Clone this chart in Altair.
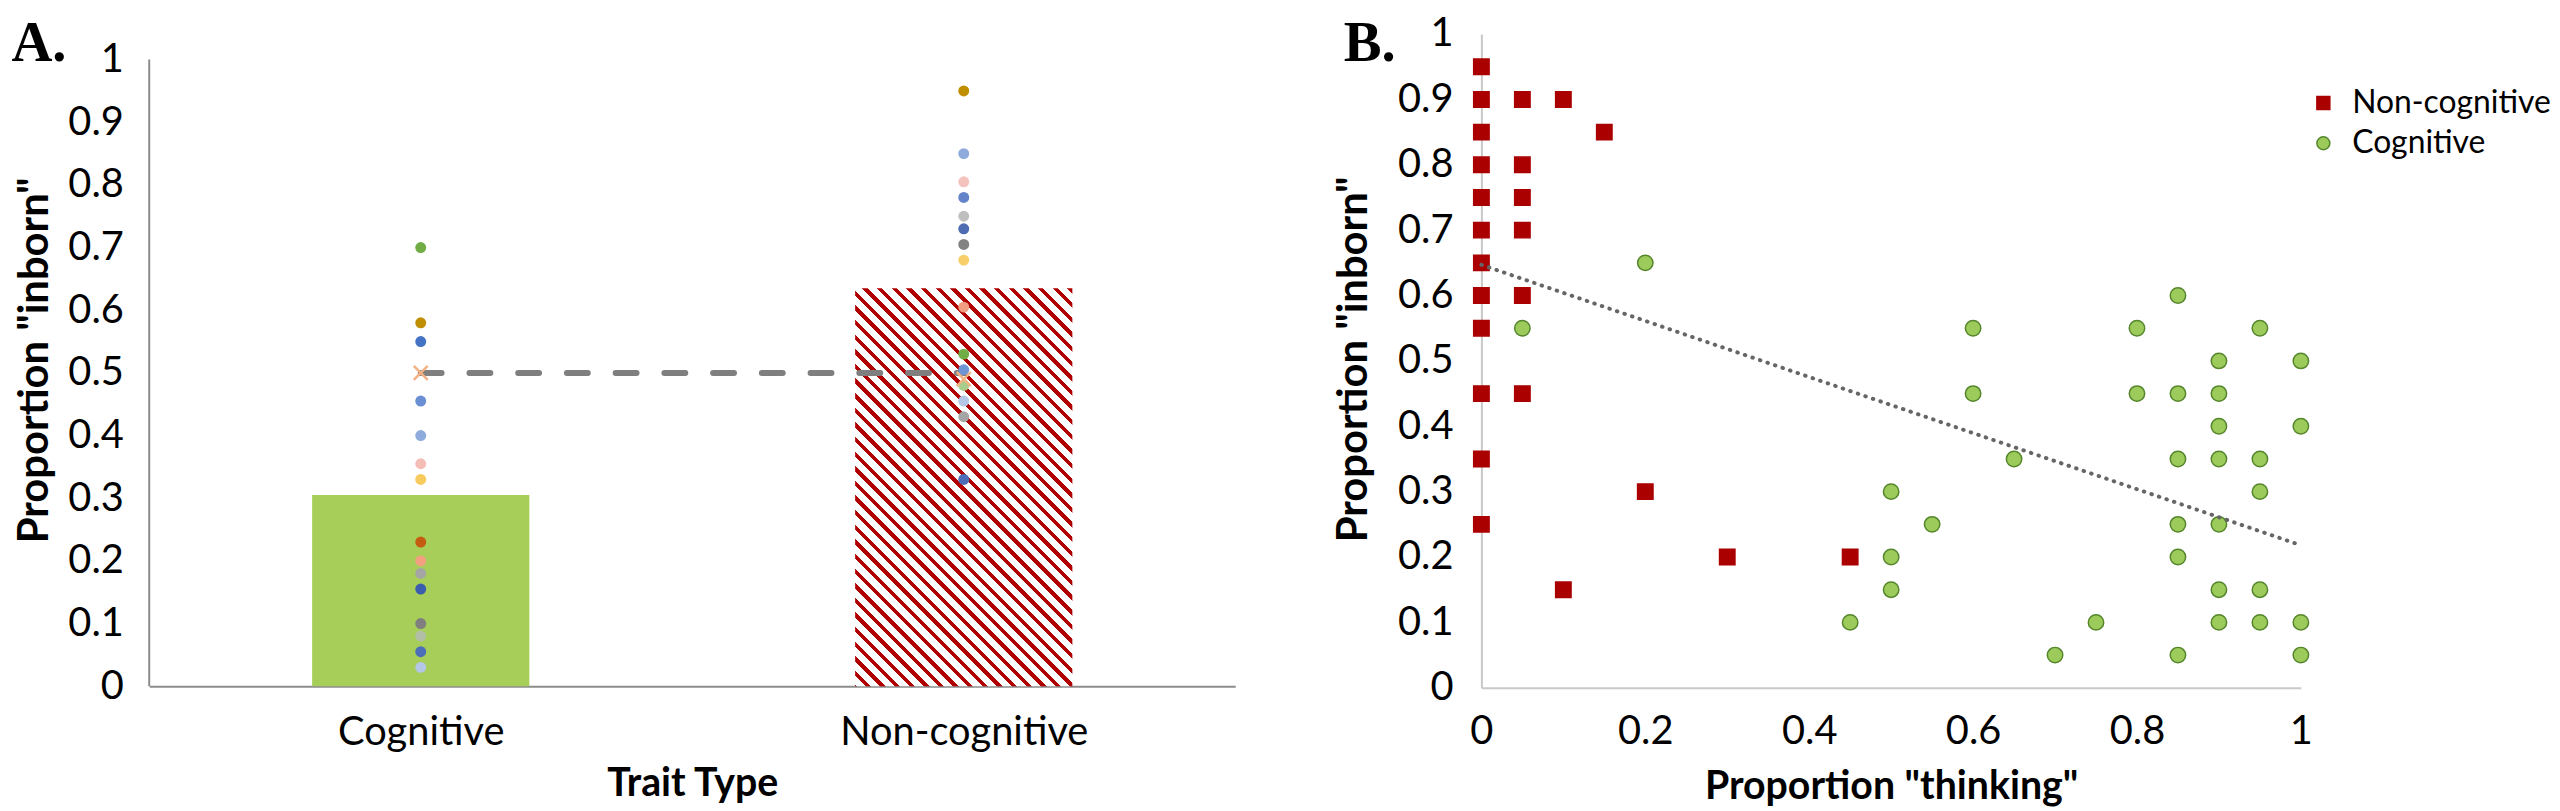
import altair as alt
import pandas as pd

# ---------------- data ----------------
categories = ["Cognitive", "Non-cognitive"]
bar_means = [0.305, 0.635]
chance_line = [0.5, 0.5]

cog_dots = [0.70, 0.58, 0.55, 0.50, 0.455, 0.40, 0.355, 0.33, 0.23, 0.20,
            0.18, 0.155, 0.10, 0.08, 0.055, 0.03]
noncog_dots = [0.95, 0.85, 0.805, 0.78, 0.75, 0.73, 0.705, 0.68, 0.605, 0.53,
               0.505, 0.49, 0.48, 0.455, 0.43, 0.33]

nc_thinking = [0, 0, 0.05, 0.10, 0, 0.15, 0, 0.05, 0, 0.05, 0, 0.05, 0, 0, 0.05,
               0, 0, 0.05, 0, 0, 0.20, 0.10, 0.30, 0.45]
nc_inborn = [0.95, 0.90, 0.90, 0.90, 0.85, 0.85, 0.80, 0.80, 0.75, 0.75, 0.70, 0.70,
             0.65, 0.60, 0.60, 0.55, 0.45, 0.45, 0.35, 0.25, 0.30, 0.15, 0.20, 0.20]
c_thinking = [0.05, 0.20, 0.45, 0.50, 0.50, 0.50, 0.55, 0.60, 0.60, 0.65, 0.70, 0.75,
              0.80, 0.80, 0.85, 0.85, 0.85, 0.85, 0.85, 0.85, 0.90, 0.90, 0.90, 0.90,
              0.90, 0.90, 0.90, 0.95, 0.95, 0.95, 0.95, 0.95, 1.00, 1.00, 1.00, 1.00]
c_inborn = [0.55, 0.65, 0.10, 0.30, 0.20, 0.15, 0.25, 0.55, 0.45, 0.35, 0.05, 0.10,
            0.55, 0.45, 0.60, 0.45, 0.35, 0.25, 0.20, 0.05, 0.50, 0.45, 0.40, 0.35,
            0.25, 0.15, 0.10, 0.55, 0.35, 0.30, 0.15, 0.10, 0.50, 0.40, 0.10, 0.05]
trend_thinking = [0.0, 1.0]
trend_inborn = [0.647, 0.218]

legend_order = ["Non-cognitive", "Cognitive"]
panel_labels = ["A.", "B."]
y_ticks = [0, 0.1, 0.2, 0.3, 0.4, 0.5, 0.6, 0.7, 0.8, 0.9, 1]
x_ticks_b = [0, 0.2, 0.4, 0.6, 0.8, 1]

# ---------------- styles ----------------
cog_palette = ["#70AD47", "#BF8F00", "#4472C4", "#F4B183", "#6A8FD3", "#8FAADC",
               "#F4BDB5", "#F7CB5E", "#C55A11", "#F2A080", "#A5A5A5", "#3A5DAE",
               "#7F7F7F", "#B2BFA6", "#4C6DB8", "#B4C7E7"]
noncog_palette = ["#BF8F00", "#8FAADC", "#F4C3BD", "#6384C8", "#BFBFBF", "#4E6CB2",
                  "#828282", "#F7CE6A", "#F19E80", "#70AD47", "#6F94D4", "#F4B183",
                  "#A9CD8C", "#B4C7E7", "#A5A5A5", "#4C6DB8"]
x_marker_cog = [3]
x_marker_noncog = [11]

FONT = "Lato"
GREEN_BAR = "#A6CE59"
HATCH_RED = "#B00000"
SQ_RED = "#AA0000"
CIRC_FILL = "#9CCB5B"
CIRC_STROKE = "#55862C"

PAD_L, PAD_T = 3, 4
TOP = 8 + PAD_T + 19.0          # page y of the plot tops
A_LEFT = 149.6                  # page x of panel A's plot
B_LEFT = 1482.6                 # page x of panel B's plot
W_A = 1092
H_A = 686.7 - TOP
A_XDOM = [-0.5, 1.5]
A_PX_PER_UNIT_Y = 630.0
A_YMAX = H_A / A_PX_PER_UNIT_Y
HALF = 0.2
SPACING = 247.5
W_B = 824
H_B = 688.3 - TOP

# ---------------- panel A tables ----------------
bars_df = pd.DataFrame({"category": categories, "pos": list(range(len(categories))),
                        "mean": bar_means})
rows = []
for i, v in enumerate(cog_dots):
    rows.append({"pos": 0, "value": v, "key": f"c{i}",
                 "marker": "x" if i in x_marker_cog else "dot"})
for i, v in enumerate(noncog_dots):
    rows.append({"pos": 1, "value": v, "key": f"n{i}",
                 "marker": "x" if i in x_marker_noncog else "dot"})
dots_df = pd.DataFrame(rows)
key_domain = [f"c{i}" for i in range(len(cog_dots))] + [f"n{i}" for i in range(len(noncog_dots))]
key_range = cog_palette + noncog_palette
line_df = pd.DataFrame({"pos": list(range(len(categories))), "value": chance_line})
axis_line_df = pd.DataFrame({"lo": [0.0], "hi": [1.0]})

xs_A = alt.Scale(domain=A_XDOM, nice=False, zero=False)
ys_A = alt.Scale(domain=[0, A_YMAX], nice=False, zero=True)
label_expr = "[" + ",".join("'" + c + "'" for c in categories) + "][datum.value]"
x_axis_A = alt.Axis(values=[0, 1], labelExpr=label_expr, title="Trait Type",
                    domainColor="#8C8C8C", domainWidth=2, ticks=False, tickSize=0,
                    grid=False, labelPadding=27, labelFlush=False, labelLimit=500,
                    titleFontSize=39.5, titleY=110.3, titleBaseline="alphabetic")
y_axis_A = alt.Axis(values=y_ticks, format="~g", domain=False, ticks=False, tickSize=0,
                    grid=False, labelPadding=26, labelFlush=False, labelLimit=500,
                    title='Proportion "inborn"', titleFontSize=42,
                    titleX=-115.6, titleY=358.5 - TOP, titleBaseline="middle")

# hatched fill for the non-cognitive bar (diagonal stripes via a banded gradient)
W_bar = 2 * HALF * W_A / (A_XDOM[1] - A_XDOM[0])
H_bar = bar_means[1] * A_PX_PER_UNIT_Y
span = W_bar + H_bar
s = span / (W_bar ** 2 + H_bar ** 2)
period = 14.7 / span
red_frac = 0.37
stops = [alt.GradientStop(color="white", offset=0)]
k = 0
while True:
    a = k * period
    if a >= 1:
        break
    b = min(a + red_frac * period, 1.0)
    stops += [alt.GradientStop(color="white", offset=round(a, 6)),
              alt.GradientStop(color=HATCH_RED, offset=round(a, 6)),
              alt.GradientStop(color=HATCH_RED, offset=round(b, 6)),
              alt.GradientStop(color="white", offset=round(b, 6))]
    k += 1
hatch = alt.LinearGradient(gradient="linear", stops=stops, x1=1, y1=0,
                           x2=1 - W_bar * s, y2=H_bar * s)

base_bar = alt.Chart(bars_df).transform_calculate(
    x0=f"datum.pos - {HALF}", x1=f"datum.pos + {HALF}", zero="0")
bar_cog = base_bar.transform_filter(alt.datum.pos == 0).mark_bar(color=GREEN_BAR).encode(
    x=alt.X("x0:Q", scale=xs_A, axis=x_axis_A), x2="x1:Q",
    y=alt.Y("mean:Q", scale=ys_A, axis=y_axis_A), y2="zero:Q")
bar_non = base_bar.transform_filter(alt.datum.pos == 1).mark_bar(color=hatch).encode(
    x=alt.X("x0:Q", scale=xs_A, axis=x_axis_A), x2="x1:Q",
    y=alt.Y("mean:Q", scale=ys_A, axis=y_axis_A), y2="zero:Q")

y_line_A = alt.Chart(axis_line_df).mark_rule(color="#8C8C8C", strokeWidth=2).encode(
    x=alt.value(0), y=alt.Y("lo:Q", scale=ys_A, axis=y_axis_A), y2="hi:Q")

dash_A = alt.Chart(line_df).mark_line(color="#7F7F7F", strokeWidth=6, strokeDash=[21, 28],
                                      strokeCap="round").encode(
    x=alt.X("pos:Q", scale=xs_A, axis=x_axis_A),
    y=alt.Y("value:Q", scale=ys_A, axis=y_axis_A))

color_A = alt.Color("key:N", scale=alt.Scale(domain=key_domain, range=key_range), legend=None)
dots_A = alt.Chart(dots_df).transform_filter(alt.datum.marker == "dot").mark_circle(
    size=121, opacity=1).encode(
    x=alt.X("pos:Q", scale=xs_A, axis=x_axis_A),
    y=alt.Y("value:Q", scale=ys_A, axis=y_axis_A), color=color_A)
xmark_A = alt.Chart(dots_df).transform_filter(alt.datum.marker == "x").mark_point(
    shape="M-1,-1L1,1M-1,1L1,-1", size=196, strokeWidth=2.5, filled=False, opacity=1).encode(
    x=alt.X("pos:Q", scale=xs_A, axis=x_axis_A),
    y=alt.Y("value:Q", scale=ys_A, axis=y_axis_A), color=color_A)

LABEL_BASE = (8 + PAD_T + 46.0) - TOP
label_A = alt.Chart(pd.DataFrame({"t": [panel_labels[0]]})).mark_text(
    font="Liberation Serif", fontWeight="bold", fontSize=57, align="left",
    baseline="alphabetic", color="black").encode(
    x=alt.value((8 + PAD_L) - A_LEFT), y=alt.value(LABEL_BASE), text="t:N")

panel_A = alt.layer(bar_cog, bar_non, y_line_A, dash_A, dots_A, xmark_A, label_A).properties(
    width=W_A, height=H_A)

# ---------------- panel B ----------------
pts_df = pd.DataFrame({
    "thinking": nc_thinking + c_thinking,
    "inborn": nc_inborn + c_inborn,
    "type": [legend_order[0]] * len(nc_thinking) + [legend_order[1]] * len(c_thinking),
})
trend_df = pd.DataFrame({"thinking": trend_thinking, "inborn": trend_inborn})

xs_B = alt.Scale(domain=[0, 1], nice=False, zero=False)
ys_B = alt.Scale(domain=[0, 1], nice=False, zero=False)
x_axis_B = alt.Axis(values=x_ticks_b, format="~g", domainColor="#C8C8C8", domainWidth=2,
                    ticks=False, tickSize=0, grid=False, labelPadding=24, labelFlush=False,
                    labelLimit=500, title='Proportion "thinking"', titleFontSize=39.5,
                    titleY=111, titleBaseline="alphabetic")
y_axis_B = alt.Axis(values=y_ticks, format="~g", domainColor="#C8C8C8", domainWidth=2,
                    ticks=False, tickSize=0, grid=False, labelPadding=28.5, labelFlush=False,
                    labelLimit=500, title='Proportion "inborn"', titleFontSize=42,
                    titleX=-128.4, titleY=357.5 - TOP, titleBaseline="middle")

# legend lives in the top-level group, whose origin is panel A's plot origin
leg = alt.Legend(orient="none", legendX=2327 - A_LEFT - 7.3, legendY=100.3 - TOP - 16,
                 title=None, labelFont=FONT, labelFontSize=32, labelColor="black",
                 labelLimit=500, symbolSize=170, symbolStrokeWidth=1.5, labelOffset=13,
                 rowPadding=8.5, padding=0)
pts_B = alt.Chart(pts_df).mark_point(size=240, opacity=1, strokeWidth=1.5).encode(
    x=alt.X("thinking:Q", scale=xs_B, axis=x_axis_B),
    y=alt.Y("inborn:Q", scale=ys_B, axis=y_axis_B),
    fill=alt.Fill("type:N", scale=alt.Scale(domain=legend_order, range=[SQ_RED, CIRC_FILL]),
                  legend=leg),
    stroke=alt.Stroke("type:N", scale=alt.Scale(domain=legend_order, range=[SQ_RED, CIRC_STROKE]),
                      legend=leg),
    shape=alt.Shape("type:N", scale=alt.Scale(domain=legend_order, range=["square", "circle"]),
                    legend=leg),
)
trend_B = alt.Chart(trend_df).mark_line(color="#666666", strokeWidth=4, strokeDash=[0.5, 7.5],
                                        strokeCap="round").encode(
    x=alt.X("thinking:Q", scale=xs_B, axis=x_axis_B),
    y=alt.Y("inborn:Q", scale=ys_B, axis=y_axis_B))
label_B = alt.Chart(pd.DataFrame({"t": [panel_labels[1]]})).mark_text(
    font="Liberation Serif", fontWeight="bold", fontSize=57, align="left",
    baseline="alphabetic", color="black").encode(
    x=alt.value(1344.2 - B_LEFT), y=alt.value(LABEL_BASE), text="t:N")

panel_B = alt.layer(pts_B, trend_B, label_B).properties(width=W_B, height=H_B)

chart = alt.hconcat(panel_A, panel_B, spacing=SPACING, bounds="flush").properties(
    padding={"left": PAD_L, "top": PAD_T, "right": 0, "bottom": 0}
).configure_view(stroke=None).configure_axis(
    labelFont=FONT, labelFontSize=40, labelColor="black",
    titleFont=FONT, titleFontWeight="bold", titleColor="black"
)

chart.save("out.html", embed_options={"renderer": "svg", "actions": False})
